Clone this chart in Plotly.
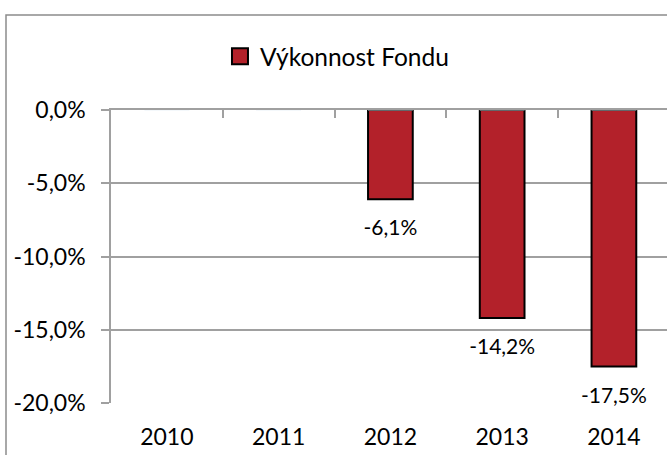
import plotly.graph_objects as go

years = ["2010", "2011", "2012", "2013", "2014"]
performance = [None, None, -6.1, -14.2, -17.5]
series_name = "Výkonnost Fondu"
y_tick_values = [0, -5, -10, -15, -20]
y_tick_labels = ["0,0%", "-5,0%", "-10,0%", "-15,0%", "-20,0%"]

FONT = "Lato, Carlito, Calibri, sans-serif"
BAR_COLOR = "#B3212A"
GRID = "#A0A0A0"


def fmt(v):
    return "" if v is None else f"{v:.1f}".replace(".", ",") + "%"


fig = go.Figure()
fig.add_trace(go.Bar(
    x=years, y=performance, name=series_name,
    marker=dict(color=BAR_COLOR, line=dict(color="#000000", width=2)),
    width=0.4, showlegend=False, xaxis="x", yaxis="y",
))
# data labels below the bar ends
fig.add_trace(go.Scatter(
    x=years, y=performance, mode="markers+text", text=[fmt(v) for v in performance],
    textposition="bottom center",
    textfont=dict(family=FONT, size=21, color="#000000"),
    marker=dict(size=31, color="rgba(0,0,0,0)"),
    showlegend=False, hoverinfo="skip", cliponaxis=False,
))
# legend entry for the series (larger square swatch)
fig.add_trace(go.Scatter(
    x=[None], y=[None], name=series_name, mode="markers",
    marker=dict(symbol="square", size=16, color=BAR_COLOR,
                line=dict(color="#000000", width=2)),
    showlegend=True, hoverinfo="skip",
))
# invisible trace to drive the top axis ticks
fig.add_trace(go.Bar(x=years, y=[0] * len(years), xaxis="x2", yaxis="y",
                     showlegend=False, hoverinfo="skip",
                     marker=dict(color="rgba(0,0,0,0)")))

fig.update_layout(
    width=667, height=455,
    margin=dict(l=111, r=0, t=110, b=52),
    paper_bgcolor="white", plot_bgcolor="white",
    font=dict(family=FONT, size=22, color="#000000"),
    showlegend=True,
    legend=dict(orientation="h", x=0.196, xanchor="left", y=1.183, yanchor="middle",
                font=dict(family=FONT, size=24.5, color="#000000"),
                bgcolor="rgba(0,0,0,0)"),
    xaxis=dict(type="category", range=[-0.5, 4.475], showgrid=False, showline=False,
               ticks="", tickfont=dict(family=FONT, size=23), ticklabelstandoff=18),
    xaxis2=dict(type="category", range=[-0.5, 4.475], overlaying="x", side="top",
                anchor="y", showline=True, linecolor=GRID, linewidth=1.5,
                ticks="inside", tickson="boundaries", ticklen=8, tickcolor=GRID,
                tickwidth=1.5, showticklabels=False, showgrid=False),
    yaxis=dict(range=[-20, 0], tickvals=y_tick_values, ticktext=y_tick_labels,
               showgrid=True, gridcolor=GRID, gridwidth=1.5,
               showline=True, linecolor=GRID, linewidth=1.5,
               ticks="outside", ticklen=8, tickcolor=GRID, tickwidth=1.5,
               tickfont=dict(family=FONT, size=23), ticklabelstandoff=11,
               zeroline=False),
    bargap=0.6,
)

# outer chart border
fig.add_shape(type="rect", xref="paper", yref="paper",
              x0=(6 - 111) / 556, x1=1.5, y0=-0.5, y1=1 + (110 - 15) / 293,
              line=dict(color="#8C8C8C", width=1.5), layer="below")

fig.write_html("out.html")
